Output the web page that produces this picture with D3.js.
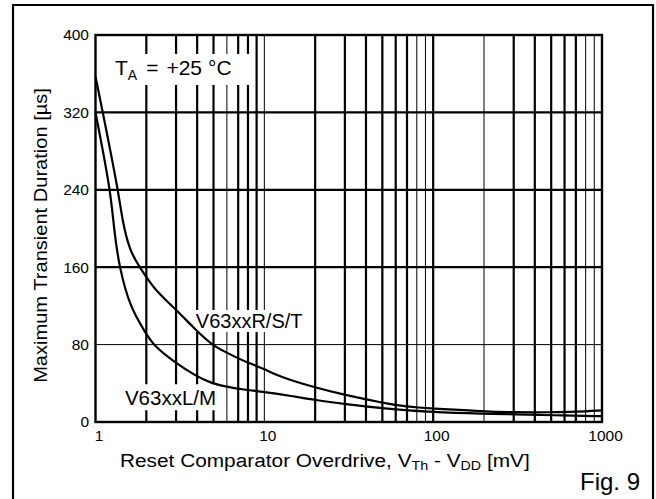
<!DOCTYPE html>
<html>
<head>
<meta charset="utf-8">
<script src="https://cdn.jsdelivr.net/npm/d3@7"></script>
<style>
body { margin:0; background:#fff; }
svg text { font-family: "Liberation Sans", Arial, Helvetica, sans-serif; fill:#000; }
</style>
</head>
<body>
<script>
//----
//Data
//----
var xTicks = [1, 10, 100, 1000]
var yTicks = [0, 80, 160, 240, 320, 400]

//V63xxR/S/T curve
var rstX = [1, 1.105, 1.364, 1.44, 1.585, 1.833, 1.963, 2.3, 2.91, 3.93, 4.89, 6, 7, 8, 9, 10, 12.3, 20, 30, 40, 50, 60, 70, 80, 100, 200, 300, 500, 700, 1000]
var rstY = [357, 320, 239, 209, 178, 159.5, 152, 134.7, 118.5, 95, 79.6, 71.6, 65.8, 61.3, 57.9, 54.8, 46.8, 35.5, 28, 23.4, 20, 17.5, 16, 15, 14, 11, 10, 10, 10.5, 12]

//V63xxL/M curve
var lmX = [1, 1.23, 1.287, 1.383, 1.6, 1.963, 2.197, 2.913, 3.93, 4.87, 5.89, 7.84, 9.83, 14.1, 20, 30, 50, 100, 200, 300, 500, 1000]
var lmY = [320, 239, 198.4, 160, 119, 93.3, 79.3, 62.3, 47.5, 40, 36.5, 33, 31.3, 27.2, 22.7, 18.6, 14.1, 10, 8.5, 8, 7, 6]

//Gridlines that came out thin in the scan
var thinX = [6, 10, 80, 90, 200, 800, 900]
var thinY = [80]

//-----
//Setup
//-----
var _width = 656,
	_height = 499

var _svg = d3.select('body').append('svg')
	.attr('width', _width)
	.attr('height', _height)

var x = d3.scaleLog().domain([1, 1000]).range([95.5, 602])
var y = d3.scaleLinear().domain([0, 400]).range([422, 35])

//Outer frame (open at bottom)
_svg.append('path')
	.attr('d', 'M13,499V5H653V499')
	.attr('fill', 'none')
	.attr('stroke', '#000')
	.attr('stroke-width', 2.2)

//-----
//Grid
//-----
var gGrid = _svg.append('g').attr('id', 'g-grid')

//all log ticks between 1 and 1000 (minus the ends)
var gridX = x.ticks().filter(function(d){ return d > 1 && d < 1000 })

gGrid.selectAll('line.vx').data(gridX).enter().append('line')
	.classed('vx', true)
	.attr('x1', function(d){ return x(d) })
	.attr('x2', function(d){ return x(d) })
	.attr('y1', y(400))
	.attr('y2', y(0))
	.attr('stroke', '#000')
	.attr('stroke-width', function(d){ return thinX.indexOf(Math.round(d)) >= 0 ? 1 : 2.2 })

gGrid.selectAll('line.hy').data(yTicks.filter(function(d){ return d > 0 && d < 400 })).enter().append('line')
	.classed('hy', true)
	.attr('x1', x(1))
	.attr('x2', x(1000))
	.attr('y1', function(d){ return y(d) })
	.attr('y2', function(d){ return y(d) })
	.attr('stroke', '#000')
	.attr('stroke-width', function(d){ return thinY.indexOf(d) >= 0 ? 1 : 2.2 })

//Plot border
_svg.append('rect')
	.attr('x', x(1))
	.attr('y', y(400))
	.attr('width', x(1000) - x(1))
	.attr('height', y(0) - y(400))
	.attr('fill', 'none')
	.attr('stroke', '#000')
	.attr('stroke-width', 2.4)

//white boxes go between grid and curves
var gBoxes = _svg.append('g').attr('id', 'g-boxes')
var gCurves = _svg.append('g').attr('id', 'g-curves')
var gLabels = _svg.append('g').attr('id', 'g-labels')

//----------
//Curves
//----------
var line = d3.line()
	.x(function(d){ return x(d[0]) })
	.y(function(d){ return y(d[1]) })
	.curve(d3.curveBasis)

gCurves.append('path')
	.datum(d3.zip(rstX, rstY))
	.attr('d', line)
	.attr('fill', 'none')
	.attr('stroke', '#000')
	.attr('stroke-width', 2.2)

gCurves.append('path')
	.datum(d3.zip(lmX, lmY))
	.attr('d', line)
	.attr('fill', 'none')
	.attr('stroke', '#000')
	.attr('stroke-width', 2.2)

//----------
//Labels
//----------
function _box(node, pad){
	var b = node.getBBox()
	gBoxes.append('rect')
		.attr('x', b.x - pad[0])
		.attr('y', b.y - pad[1])
		.attr('width', b.width + pad[0] + pad[2])
		.attr('height', b.height + pad[1] + pad[3])
		.attr('fill', '#fff')
}

function _label(txt, xv, yv, size, pad){
	var t = gLabels.append('text')
		.attr('x', x(xv))
		.attr('y', y(yv))
		.style('font-size', size + 'px')
		.text(txt)
	_box(t.node(), pad)
	return t
}

_label('V63xxR/S/T', 3.93, 97.2, 20, [4, 0, 3, 0])
_label('V63xxL/M', 1.494, 17.3, 20.5, [3, 2, 3, 1])

//Temperature label with subscript
var ta = gLabels.append('text')
	.attr('x', x(1.304))
	.attr('y', y(358.7))
	.style('font-size', '21px')
ta.append('tspan').text('T')
ta.append('tspan').attr('dy', 5).style('font-size', '14px').text('A')
ta.append('tspan').attr('dy', -5).attr('dx', 9).text('=')
ta.append('tspan').attr('dx', 8).text('+25')
ta.append('tspan').attr('dx', 6).text('°C')
_box(ta.node(), [14, 2, 20, 2])

//----
//Axes
//----
var xAxis = d3.axisBottom(x)
	.tickValues(xTicks)
	.tickFormat(d3.format('d'))
	.tickSize(0)
	.tickPadding(7.5)

var gx = _svg.append('g')
	.attr('transform', 'translate(3,' + y(0) + ')')
	.call(xAxis)
gx.select('.domain').remove()
gx.selectAll('text').style('font-size', '15.5px').attr('font-family', null)

var yAxis = d3.axisLeft(y)
	.tickValues(yTicks)
	.tickSize(0)
	.tickPadding(6.5)

var gy = _svg.append('g')
	.attr('transform', 'translate(' + x(1) + ',0)')
	.call(yAxis)
gy.select('.domain').remove()
gy.selectAll('text').style('font-size', '15.5px').attr('font-family', null)

//Axis titles (the scan's face runs wider than Liberation, so stretch to fit)
var xt = _svg.append('text')
	.attr('x', 0)
	.attr('y', 0)
	.style('font-size', '19px')
xt.append('tspan').text('Reset Comparator Overdrive, V')
xt.append('tspan').attr('dy', 3).style('font-size', '13px').text('Th')
xt.append('tspan').attr('dy', -3).text(' - V')
xt.append('tspan').attr('dy', 3).style('font-size', '13px').text('DD')
xt.append('tspan').attr('dy', -3).text(' [mV]')
var xw = xt.node().getBBox().width
xt.attr('transform', 'translate(120,467) scale(' + (410 / xw) + ',1)')

var yt = _svg.append('text')
	.attr('text-anchor', 'middle')
	.style('font-size', '19px')
	.text('Maximum Transient Duration [µs]')
var yw = yt.node().getBBox().width
yt.attr('transform', 'translate(47,235.5) rotate(-90) scale(' + (295 / yw) + ',1)')

_svg.append('text')
	.attr('x', 580)
	.attr('y', 490)
	.style('font-size', '24px')
	.text('Fig. 9')
</script>
</body>
</html>
